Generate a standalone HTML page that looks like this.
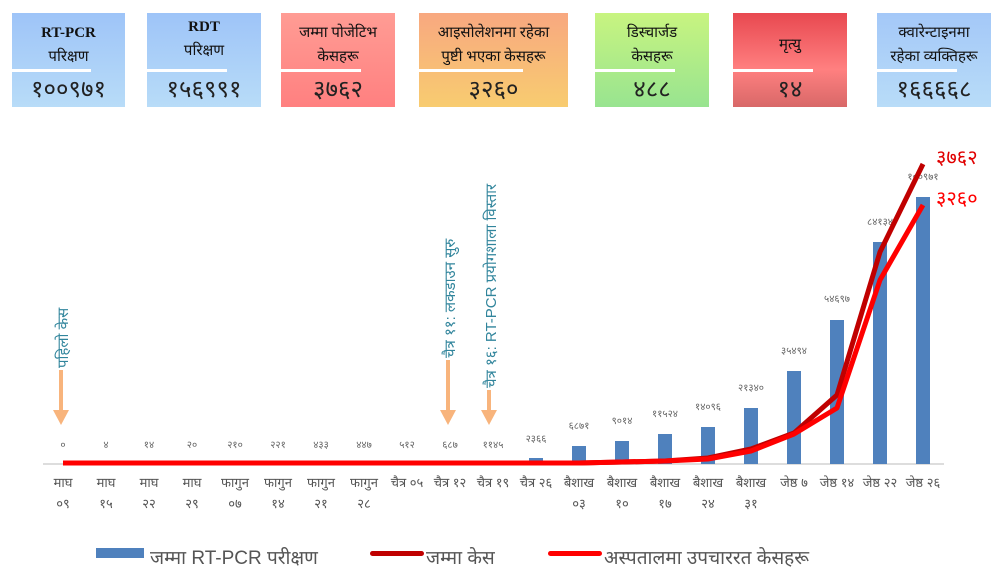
<!DOCTYPE html>
<html><head><meta charset="utf-8"><style>
body{margin:0;width:1000px;height:580px;background:#fff;position:relative;overflow:hidden;font-family:"Liberation Serif","Noto Serif CJK SC","Noto Sans CJK SC",serif}
.card{position:absolute;top:13px;height:94px;color:#111;text-align:center}
.card .t{height:57px;font-size:15px;line-height:24px;padding-top:8px;box-sizing:border-box}
.card .l{position:absolute;left:0;top:56px;height:3px;background:#fff;width:70%}
.card .n{position:absolute;top:60px;left:0;right:0;font-size:24px;line-height:34px;font-family:"Liberation Sans",sans-serif;color:#222}
svg text{font-family:"Liberation Sans","Noto Sans CJK SC",sans-serif}
</style></head><body>
<div class="card" style="left:12px;width:113px;background:linear-gradient(#9ec4f8,#b8dcf8)"><div class="t"><b>RT-PCR</b><br>परिक्षण</div><div class="l"></div><div class="n">१००९७१</div></div>
<div class="card" style="left:147px;width:114px;background:linear-gradient(#9ec4f8,#b8dcf8)"><div class="t" style="padding-top:2px"><b>RDT</b><br>परिक्षण</div><div class="l"></div><div class="n">१५६९९१</div></div>
<div class="card" style="left:281px;width:114px;background:linear-gradient(#ff9c94,#ff8080)"><div class="t">जम्मा पोजेटिभ<br>केसहरू</div><div class="l"></div><div class="n">३७६२</div></div>
<div class="card" style="left:419px;width:149px;background:linear-gradient(#f8a880,#f8cc70)"><div class="t">आइसोलेशनमा रहेका<br>पुष्टी भएका केसहरू</div><div class="l"></div><div class="n">३२६०</div></div>
<div class="card" style="left:595px;width:114px;background:linear-gradient(#c8f480,#98e490)"><div class="t">डिस्चार्जड<br>केसहरू</div><div class="l"></div><div class="n">४८८</div></div>
<div class="card" style="left:733px;width:114px;background:linear-gradient(#e84850,#ff8080 60%,#d86868)"><div class="t" style="padding-top:20px">मृत्यु</div><div class="l"></div><div class="n">१४</div></div>
<div class="card" style="left:877px;width:114px;background:linear-gradient(#a4c8f8,#b8dcf8)"><div class="t">क्वारेन्टाइनमा<br>रहेका व्यक्तिहरू</div><div class="l"></div><div class="n">१६६६६८</div></div>

<svg width="1000" height="580" style="position:absolute;left:0;top:0">
<line x1="43" y1="464" x2="944" y2="464" stroke="#ddd" stroke-width="2"/>
<g fill="#4f81bd">
<rect x="529" y="458" width="14" height="6"/><rect x="572" y="446" width="14" height="18"/><rect x="615" y="441" width="14" height="23"/><rect x="658" y="434" width="14" height="30"/><rect x="701" y="427" width="14" height="37"/><rect x="744" y="408" width="14" height="56"/><rect x="787" y="371" width="14" height="93"/><rect x="830" y="320" width="14" height="144"/><rect x="873" y="242" width="14" height="222"/><rect x="916" y="197" width="14" height="267"/>
</g>
<g font-size="10" fill="#666" text-anchor="middle">
<text x="63" y="448">०</text><text x="106" y="448">४</text><text x="149" y="448">१४</text><text x="192" y="448">२०</text><text x="235" y="448">२१०</text><text x="278" y="448">२२१</text><text x="321" y="448">४३३</text><text x="364" y="448">४४७</text><text x="407" y="448">५१२</text><text x="450" y="448">६८७</text><text x="493" y="448">११४५</text><text x="536" y="442">२३६६</text><text x="579" y="429">६८७१</text><text x="622" y="424">९०१४</text><text x="665" y="417">११५२४</text><text x="708" y="410">१४०९६</text><text x="751" y="391">२१३४०</text><text x="794" y="354">३५४९४</text><text x="837" y="302">५४६९७</text><text x="880" y="225">८४१३४</text><text x="923" y="180">१००९७१</text>
</g>
<g font-size="13" fill="#555" text-anchor="middle">
<text x="63" y="487">माघ</text><text x="63" y="508">०९</text>
<text x="106" y="487">माघ</text><text x="106" y="508">१५</text>
<text x="149" y="487">माघ</text><text x="149" y="508">२२</text>
<text x="192" y="487">माघ</text><text x="192" y="508">२९</text>
<text x="235" y="487">फागुन</text><text x="235" y="508">०७</text>
<text x="278" y="487">फागुन</text><text x="278" y="508">१४</text>
<text x="321" y="487">फागुन</text><text x="321" y="508">२१</text>
<text x="364" y="487">फागुन</text><text x="364" y="508">२८</text>
<text x="407" y="487">चैत्र ०५</text><text x="450" y="487">चैत्र १२</text><text x="493" y="487">चैत्र १९</text><text x="536" y="487">चैत्र २६</text>
<text x="579" y="487">बैशाख</text><text x="579" y="508">०३</text>
<text x="622" y="487">बैशाख</text><text x="622" y="508">१०</text>
<text x="665" y="487">बैशाख</text><text x="665" y="508">१७</text>
<text x="708" y="487">बैशाख</text><text x="708" y="508">२४</text>
<text x="751" y="487">बैशाख</text><text x="751" y="508">३१</text>
<text x="794" y="487">जेष्ठ ७</text><text x="837" y="487">जेष्ठ १४</text><text x="880" y="487">जेष्ठ २२</text><text x="923" y="487">जेष्ठ २६</text>
</g>
<polyline fill="none" stroke="#c00000" stroke-width="5" stroke-linejoin="round" points="63,463 536,463 579,463 622,462 665,461 708,458 751,449 794,433 837,395 880,252 923,164"/>
<polyline fill="none" stroke="#ff0000" stroke-width="5" stroke-linejoin="round" points="63,463 536,463 579,463 622,462 665,461 708,459 751,451 794,434 837,408 880,280 923,205"/>
<text x="936" y="164" font-size="20" fill="#e00000">३७६२</text>
<text x="936" y="205" font-size="20" fill="#ff0000">३२६०</text>
<g fill="#f8b47c">
<rect x="59" y="370" width="4" height="42"/><polygon points="53,410 69,410 61,425"/>
<rect x="446" y="360" width="4" height="52"/><polygon points="440,410 456,410 448,425"/>
<rect x="487" y="390" width="4" height="22"/><polygon points="481,410 497,410 489,425"/>
</g>
<g font-size="15" fill="#31859c">
<text transform="translate(68,368) rotate(-90)">पहिलो केस</text>
<text transform="translate(455,358) rotate(-90)">चैत्र ११: लकडाउन सुरु</text>
<text transform="translate(496,388) rotate(-90)">चैत्र १६: RT-PCR प्रयोगशाला विस्तार</text>
</g>
<rect x="96" y="548" width="48" height="10" fill="#4f81bd"/>
<text x="150" y="564" font-size="19" fill="#555">जम्मा RT-PCR परीक्षण</text>
<rect x="370" y="551" width="54" height="5" rx="2.5" fill="#c00000"/>
<text x="426" y="564" font-size="19" fill="#555">जम्मा केस</text>
<rect x="548" y="551" width="54" height="5" rx="2.5" fill="#ff0000"/>
<text x="604" y="564" font-size="19" fill="#555">अस्पतालमा उपचाररत केसहरू</text>
</svg>
</body></html>
